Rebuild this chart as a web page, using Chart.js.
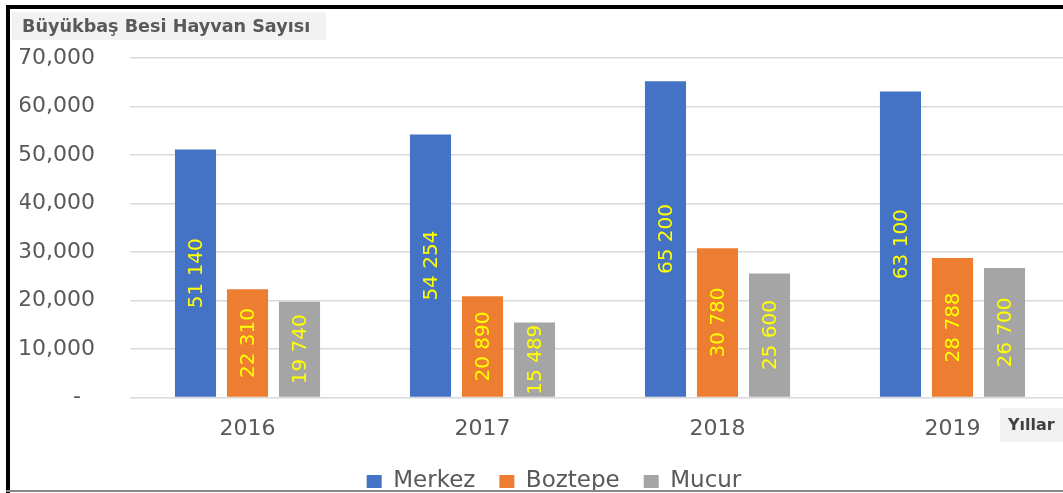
<!DOCTYPE html>
<html><head><meta charset="utf-8">
<script src="https://cdn.jsdelivr.net/npm/chart.js@4/dist/chart.umd.min.js"></script>
<style>
html,body{margin:0;padding:0;background:#fff;overflow:hidden;width:1063px;height:493px;}
#wrap{position:absolute;left:0;top:0;width:1080px;height:493px;}
.b{position:absolute;}
</style></head><body>
<div id="wrap"><canvas id="c" width="1080" height="493"></canvas></div>
<div class="b" style="left:6px;top:5px;width:1057px;height:4px;background:#000"></div>
<div class="b" style="left:6px;top:5px;width:4px;height:488px;background:#000"></div>
<div class="b" style="left:6px;top:490px;width:1057px;height:2px;background:#888"></div>
<script>
const categories = ['2016','2017','2018','2019'];
const merkez  = [51140, 54254, 65200, 63100];
const boztepe = [22310, 20890, 30780, 28788];
const mucur   = [19740, 15489, 25600, 26700];
const seriesNames = ['Merkez','Boztepe','Mucur'];
const titleText = 'Büyükbaş Besi Hayvan Sayısı';
const xAxisTitle = 'Yıllar';

const FONT = "'DejaVu Sans', sans-serif";
const fmtSpace = v => String(v).replace(/\B(?=(\d{3})+(?!\d))/g, ' ');

const labelPlugin = {
  id: 'barLabels',
  afterDatasetsDraw(chart) {
    const ctx = chart.ctx;
    chart.data.datasets.forEach((ds, i) => {
      const meta = chart.getDatasetMeta(i);
      meta.data.forEach((el, j) => {
        const yc = (el.y + el.base) / 2;
        ctx.save();
        ctx.translate(el.x, yc);
        ctx.rotate(-Math.PI / 2);
        ctx.font = "20px " + FONT;
        ctx.fillStyle = '#FFFF00';
        ctx.textAlign = 'center';
        ctx.textBaseline = 'middle';
        ctx.fillText(fmtSpace(ds.data[j]), 0, 1);
        ctx.restore();
      });
    });
  }
};

const legendShift = {
  id: 'legendShift',
  afterLayout(chart) {
    if (chart.legend) { chart.legend.left += 9; chart.legend.right += 9; }
  }
};

const boxesPlugin = {
  id: 'boxes',
  afterDraw(chart) {
    const ctx = chart.ctx;
    ctx.save();
    ctx.fillStyle = '#F2F2F2';
    ctx.fillRect(12, 12, 314, 28);
    ctx.font = "bold 17.6px " + FONT;
    ctx.fillStyle = '#595959';
    ctx.textBaseline = 'middle';
    ctx.textAlign = 'left';
    ctx.fillText(titleText, 22, 27);
    ctx.fillStyle = '#F2F2F2';
    ctx.fillRect(1000, 408, 80, 34);
    ctx.font = "bold 16px " + FONT;
    ctx.fillStyle = '#404040';
    ctx.fillText(xAxisTitle, 1008, 426);
    ctx.restore();
  }
};

new Chart(document.getElementById('c'), {
  type: 'bar',
  data: {
    labels: categories,
    datasets: [
      {label: seriesNames[0], data: merkez,  backgroundColor: '#4472C4'},
      {label: seriesNames[1], data: boztepe, backgroundColor: '#ED7D31'},
      {label: seriesNames[2], data: mucur,   backgroundColor: '#A5A5A5'}
    ]
  },
  options: {
    responsive: false,
    animation: false,
    devicePixelRatio: 1,
    categoryPercentage: 0.664,
    barPercentage: 0.79,
    layout: {padding: {left: 20, right: 10, top: 58, bottom: -10}},
    scales: {
      x: {
        grid: {display: false, drawTicks: false},
        border: {display: false},
        ticks: {color: '#595959', font: {family: FONT, size: 22}, padding: 18},
        afterFit: s => { s.height = s.height - 14; }
      },
      y: {
        min: 0, max: 70000,
        ticks: {
          stepSize: 10000,
          color: '#595959',
          font: {family: FONT, size: 22},
          padding: 35,
          callback: v => v === 0 ? '-  ' : v.toLocaleString('en-US')
        },
        grid: {color: '#D9D9D9', lineWidth: 1.5, drawTicks: false},
        border: {display: false},
        afterFit: s => { s.width = 110; }
      }
    },
    plugins: {
      legend: {
        position: 'bottom',
        labels: {boxWidth: 15, boxHeight: 13, color: '#595959', font: {family: FONT, size: 23}, padding: 24}
      },
      tooltip: {enabled: false},
      title: {display: false}
    }
  },
  plugins: [labelPlugin, legendShift, boxesPlugin]
});
</script>
</body></html>
